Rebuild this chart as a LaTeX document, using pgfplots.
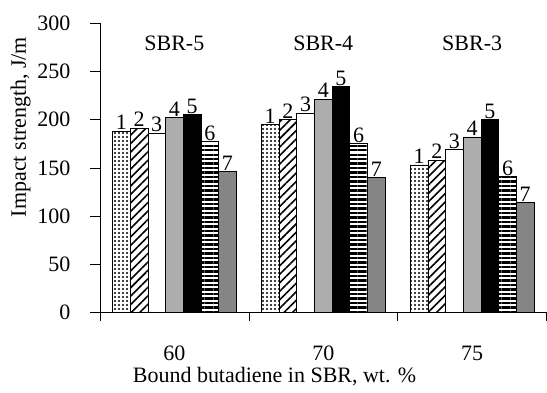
\documentclass[border=0pt]{standalone}
\usepackage{fontspec}
\setmainfont{Liberation Serif}
\usepackage{pgfplots}
\pgfplotsset{compat=1.18}
\usetikzlibrary{patterns.meta}
\begin{document}
\begin{tikzpicture}
\fontsize{22}{26}\selectfont
\begin{axis}[
  name=ax,
  scale only axis,
  width=447pt, height=290pt,
  xmin=-0.5, xmax=2.5,
  ymin=0, ymax=300,
  axis lines=left,
  axis line style={-, black, line width=0.8pt},
  ybar=0pt,
  bar width=17.7pt,
  xtick={0,1,2},
  xticklabels={60,70,75},
  major x tick style={draw=none},
  minor xtick={-0.5,0.5,1.5,2.5},
  minor tick length=8pt,
  ytick={0,50,...,300},
  major tick length=10pt,
  tick align=outside,
  tick style={black, line width=0.6pt},
  /pgf/number format/assume math mode=true,
  tick label style={font=\fontsize{22}{26}\selectfont},
  xticklabel style={yshift=-16pt},
  yticklabel style={xshift=-12pt},
  xlabel={Bound butadiene in SBR, wt. \%},
  ylabel={Impact strength, J/m},
  label style={font=\fontsize{22}{26}\selectfont},
  x label style={at={(ticklabel cs:0.391)}, anchor=near ticklabel, yshift=9pt},
  y label style={at={(ticklabel cs:0.641)}, anchor=near ticklabel, yshift=-8pt},
  clip=false,
  every node near coord/.append style={font=\fontsize{22}{26}\selectfont, inner sep=1pt},
]
\addplot[draw=black, line width=0.6pt, pattern={Dots[distance=4pt,radius=1.1pt]}, nodes near coords={1}]
  coordinates {(0,188) (1,195) (2,153)};
\addplot[draw=black, line width=0.6pt, pattern={Lines[angle=45,distance=6pt,line width=1.6pt]}, nodes near coords={2}]
  coordinates {(0,191) (1,200) (2,158)};
\addplot[draw=black, line width=0.6pt, fill=white, nodes near coords={3}]
  coordinates {(0,186) (1,207) (2,169)};
\addplot[draw=black, line width=0.6pt, fill=black!32, nodes near coords={4}]
  coordinates {(0,202) (1,221) (2,182)};
\addplot[draw=black, line width=0.6pt, fill=black, nodes near coords={5}]
  coordinates {(0,205) (1,234) (2,200)};
\addplot[draw=black, line width=0.6pt, pattern={Lines[angle=0,distance=4.5pt,line width=2.2pt]}, nodes near coords={6}]
  coordinates {(0,177) (1,175) (2,141)};
\addplot[draw=black, line width=0.6pt, fill=black!48, nodes near coords={7}]
  coordinates {(0,146) (1,140) (2,114)};
\node[anchor=base] at (axis cs:0,272) {SBR-5};
\node[anchor=base] at (axis cs:1,272) {SBR-4};
\node[anchor=base] at (axis cs:2,272) {SBR-3};
\end{axis}
\path ([shift={(-100pt,-75pt)}]ax.south west) rectangle ([shift={(0pt,23pt)}]ax.north east);
\end{tikzpicture}
\end{document}
